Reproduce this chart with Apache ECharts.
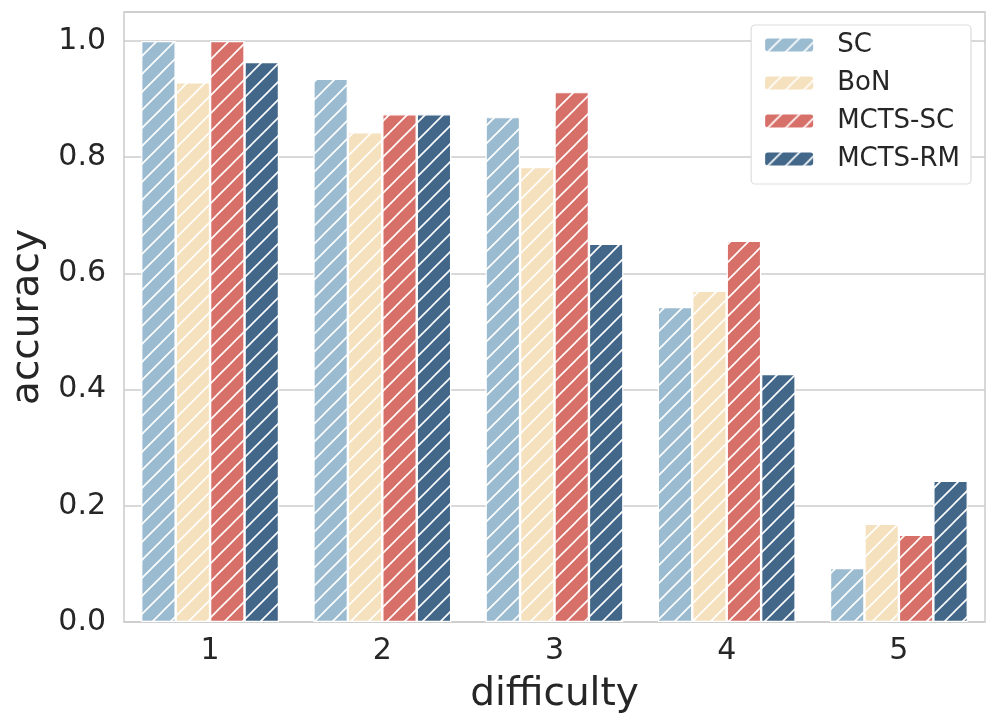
<!DOCTYPE html>
<html>
<head>
<meta charset="utf-8">
<script src="https://cdn.jsdelivr.net/npm/echarts@6/dist/echarts.min.js"></script>
<style>html,body{margin:0;padding:0;background:#fff}#c{width:997px;height:726px}</style>
</head>
<body>
<div id="c"></div>
<script>
const categories = ['1', '2', '3', '4', '5'];
const seriesNames = ['SC', 'BoN', 'MCTS-SC', 'MCTS-RM'];
const scValues = [1.0, 0.935, 0.869, 0.542, 0.093];
const bonValues = [0.929, 0.843, 0.783, 0.570, 0.169];
const mctsScValues = [1.0, 0.874, 0.912, 0.656, 0.150];
const mctsRmValues = [0.964, 0.874, 0.651, 0.427, 0.243];
const yTicks = [0.0, 0.2, 0.4, 0.6, 0.8, 1.0];
const seriesColors = ['#9bbbd0', '#f5e1be', '#d8706a', '#436789'];

function hatch(color) {
  const s = 18;
  const cv = document.createElement('canvas');
  cv.width = s; cv.height = s;
  const ctx = cv.getContext('2d');
  ctx.fillStyle = color;
  ctx.fillRect(0, 0, s, s);
  ctx.strokeStyle = '#ffffff';
  ctx.lineWidth = 1.6;
  ctx.beginPath();
  ctx.moveTo(-2, s + 2); ctx.lineTo(s + 2, -2);
  ctx.moveTo(-2 - s, s + 2); ctx.lineTo(2, -2);
  ctx.moveTo(s - 2, s + 2); ctx.lineTo(2 * s + 2, -2);
  ctx.stroke();
  return { image: cv, repeat: 'repeat' };
}

const allValues = [scValues, bonValues, mctsScValues, mctsRmValues];
const chart = echarts.init(document.getElementById('c'), null, { renderer: 'canvas' });
const font = 'DejaVu Sans';
chart.setOption({
  animation: false,
  textStyle: { fontFamily: font },
  grid: {
    left: 124, right: 12, top: 12, bottom: 104,
    containLabel: false, outerBoundsMode: 'none',
    show: true, borderColor: '#cccccc', borderWidth: 1.5
  },
  legend: {
    right: 26, top: 25,
    orient: 'vertical',
    itemWidth: 50, itemHeight: 15, itemGap: 12,
    padding: [7, 11, 12, 12],
    borderColor: '#dddddd', borderWidth: 1.2, borderRadius: 4,
    backgroundColor: '#ffffff',
    textStyle: { fontSize: 26, color: '#262626', fontFamily: font, padding: [0, 0, 0, 18] },
    data: seriesNames
  },
  xAxis: {
    type: 'category',
    data: categories,
    name: 'difficulty',
    nameLocation: 'middle',
    nameGap: 53,
    nameTextStyle: { fontSize: 39, color: '#262626', fontFamily: font },
    axisLine: { show: false },
    axisTick: { show: false },
    axisLabel: { fontSize: 30, color: '#262626', margin: 14, fontFamily: font },
    splitLine: { show: false }
  },
  yAxis: {
    type: 'value',
    min: 0, max: 1.05, interval: 0.2,
    name: 'accuracy',
    nameLocation: 'middle',
    nameGap: 74,
    nameTextStyle: { fontSize: 39, color: '#262626', fontFamily: font },
    axisLine: { show: false },
    axisTick: { show: false },
    axisLabel: {
      fontSize: 30, color: '#262626', margin: 18, fontFamily: font,
      formatter: v => (yTicks.some(t => Math.abs(t - v) < 1e-9) ? v.toFixed(1) : '')
    },
    splitLine: { lineStyle: { color: '#cccccc', width: 1.5 } }
  },
  series: seriesNames.map((n, i) => ({
    name: n,
    type: 'bar',
    data: allValues[i],
    barGap: '0%',
    barCategoryGap: '20%',
    itemStyle: { color: hatch(seriesColors[i]), borderColor: '#ffffff', borderWidth: 1.2 }
  }))
});
</script>
</body>
</html>
